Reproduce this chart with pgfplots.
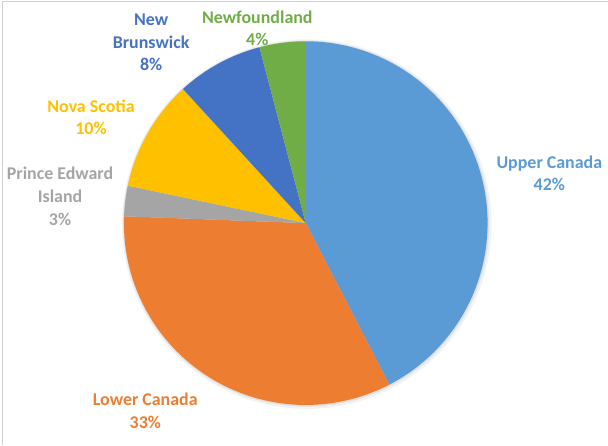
\documentclass[border=0pt]{standalone}
\usepackage{pgfplots}
\pgfplotsset{compat=1.18}
\usepackage{fontspec}
\setmainfont{Carlito}

\definecolor{cUC}{HTML}{5B9BD5}
\definecolor{cLC}{HTML}{ED7D31}
\definecolor{cPE}{HTML}{A5A5A5}
\definecolor{cNS}{HTML}{FFC000}
\definecolor{cNB}{HTML}{4472C4}
\definecolor{cNF}{HTML}{70AD47}

\tikzset{lbl/.style={font=\bfseries\fontsize{18}{22.7}\selectfont, align=center, inner sep=0pt}}

% shares of the pie (percent), clockwise from the top
\def\vUC{42.4}
\def\vLC{33.2}
\def\vPE{2.7}
\def\vNS{9.9}
\def\vNB{7.7}
\def\vNF{4.1}

% pie centre and radius (in the 608 x 445 frame)
\def\cx{306}
\def\cy{221.7}
\def\rr{182}

\pgfmathsetmacro\aA{90}
\pgfmathsetmacro\aB{\aA-3.6*\vUC}
\pgfmathsetmacro\aC{\aB-3.6*\vLC}
\pgfmathsetmacro\aD{\aC-3.6*\vPE}
\pgfmathsetmacro\aE{\aD-3.6*\vNS}
\pgfmathsetmacro\aF{\aE-3.6*\vNB}
\pgfmathsetmacro\aG{\aF-3.6*\vNF}

\begin{document}
\begin{tikzpicture}
\begin{axis}[
  scale only axis,
  width=608bp, height=445bp,
  xmin=0, xmax=608, ymin=0, ymax=445,
  hide axis,
  clip=false,
]
\path (axis cs:0,0) rectangle (axis cs:608,445);
% chart area border (top and left edges visible)
\draw[black!18, line width=1bp] (axis cs:2.5,0) -- (axis cs:2.5,443) -- (axis cs:608,443);

% faint shadow
\addplot[fill=black!5, draw=none, domain=0:360, samples=120]
  ({\cx+1+(\rr+3)*cos(x)},{\cy-1+(\rr+3)*sin(x)}) -- cycle;
\addplot[fill=black!12, draw=none, domain=0:360, samples=120]
  ({\cx+0.5+(\rr+1.2)*cos(x)},{\cy-0.5+(\rr+1.2)*sin(x)}) -- cycle;

% slices
\addplot[fill=cUC, draw=none, domain=\aB:\aA, samples=80]
  ({\cx+\rr*cos(x)},{\cy+\rr*sin(x)}) -- (axis cs:\cx,\cy) -- cycle;
\addplot[fill=cLC, draw=none, domain=\aC:\aB, samples=80]
  ({\cx+\rr*cos(x)},{\cy+\rr*sin(x)}) -- (axis cs:\cx,\cy) -- cycle;
\addplot[fill=cPE, draw=none, domain=\aD:\aC, samples=10]
  ({\cx+\rr*cos(x)},{\cy+\rr*sin(x)}) -- (axis cs:\cx,\cy) -- cycle;
\addplot[fill=cNS, draw=none, domain=\aE:\aD, samples=25]
  ({\cx+\rr*cos(x)},{\cy+\rr*sin(x)}) -- (axis cs:\cx,\cy) -- cycle;
\addplot[fill=cNB, draw=none, domain=\aF:\aE, samples=20]
  ({\cx+\rr*cos(x)},{\cy+\rr*sin(x)}) -- (axis cs:\cx,\cy) -- cycle;
\addplot[fill=cNF, draw=none, domain=\aG:\aF, samples=12]
  ({\cx+\rr*cos(x)},{\cy+\rr*sin(x)}) -- (axis cs:\cx,\cy) -- cycle;

% data labels
\node[lbl, text=cUC] at (axis cs:549.8,271.5) {Upper Canada\\42\%};
\node[lbl, text=cLC] at (axis cs:145.4,34) {Lower Canada\\33\%};
\node[lbl, text=cPE] at (axis cs:60.1,248.5) {Prince Edward\\Island\\3\%};
\node[lbl, text=cNS] at (axis cs:91.1,327.5) {Nova Scotia\\10\%};
\node[lbl, text=cNB] at (axis cs:151.2,402.5) {New\\Brunswick\\8\%};
\node[lbl, text=cNF] at (axis cs:257.5,416.5) {Newfoundland\\4\%};
\end{axis}
\end{tikzpicture}
\end{document}
